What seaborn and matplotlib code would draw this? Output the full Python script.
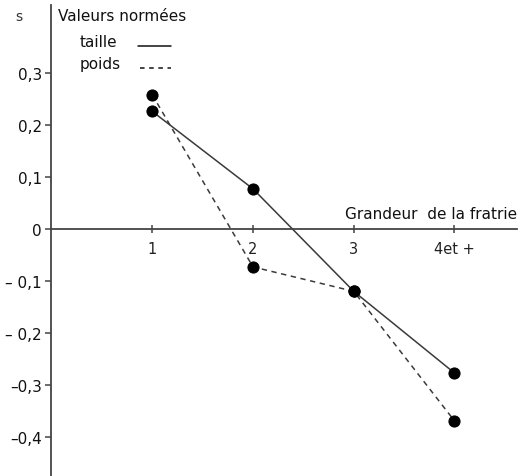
import numpy as np
import pandas as pd
import matplotlib
matplotlib.use('Agg')
import matplotlib.pyplot as plt
import seaborn as sns

# Valeurs normées selon la grandeur de la fratrie
categories = ['1', '2', '3', '4et +']
taille = [0.226, 0.077, -0.120, -0.277]
poids = [0.258, -0.073, -0.120, -0.369]

y_ticks = [0.3, 0.2, 0.1, 0.0, -0.1, -0.2, -0.3, -0.4]
y_labels = ['0,3', '0,2', '0,1', '0', '\u2013 0,1', '\u2013 0,2', '\u20130,3', '\u20130,4']

sns.set_style('white')
plt.rcParams['font.family'] = ['DejaVu Sans']

positions = np.arange(1, len(categories) + 1)
df = pd.DataFrame({
    'x': np.concatenate([positions, positions]),
    'val': taille + poids,
    'serie': ['taille'] * len(taille) + ['poids'] * len(poids),
})

fig = plt.figure(figsize=(5.25, 4.77), dpi=100)
ax = fig.add_axes([0, 0, 1, 1])

line_col = '#3a3a3a'
sns.lineplot(data=df[df.serie == 'taille'], x='x', y='val', ax=ax,
             color=line_col, lw=1.1, marker='o', markersize=8,
             markerfacecolor='black', markeredgecolor='black')
sns.lineplot(data=df[df.serie == 'poids'], x='x', y='val', ax=ax,
             color=line_col, lw=1.1, linestyle=(0, (3.5, 3)), marker='o',
             markersize=8, markerfacecolor='black', markeredgecolor='black')

ax.set_xlim(-0.511, 4.70)
ax.set_ylim(-0.475, 0.442)

for side in ['top', 'right']:
    ax.spines[side].set_visible(False)
ax.spines['left'].set_position(('data', 0))
ax.spines['bottom'].set_position(('data', 0))
ax.spines['left'].set_bounds(-0.475, 0.43)
ax.spines['bottom'].set_bounds(0, 4.62)
for side in ['left', 'bottom']:
    ax.spines[side].set_color('#444444')
    ax.spines[side].set_linewidth(1.3)

ax.set_xticks(positions)
ax.set_xticklabels(categories, fontsize=10.5, color='#222222')
ax.tick_params(axis='x', bottom=True, direction='inout', length=6, width=1.1,
               color='#444444', pad=6)
ax.set_yticks(y_ticks)
ax.set_yticklabels(y_labels, fontsize=11, color='#111111')
ax.tick_params(axis='y', left=True, direction='out', length=4, width=1.1,
               color='#444444', pad=3)
ax.set_xlabel('')
ax.set_ylabel('')

ax.text(-0.36, 0.410, 's', fontsize=10, color='#333333', va='center')
ax.text(0.06, 0.410, 'Valeurs normées', fontsize=11, color='#111111', va='center')
ax.text(0.28, 0.360, 'taille', fontsize=11, color='#111111', va='center')
ax.text(0.28, 0.318, 'poids', fontsize=11, color='#111111', va='center')
ax.plot([0.86, 1.19], [0.352, 0.352], color='#111111', lw=1.1)
ax.plot([0.88, 1.19], [0.310, 0.310], color='#111111', lw=1.1, ls=(0, (3, 3)))
ax.text(4.62, 0.03, 'Grandeur  de la fratrie', fontsize=11, color='#111111',
        ha='right', va='center')

fig.savefig('out.png', dpi=100)
